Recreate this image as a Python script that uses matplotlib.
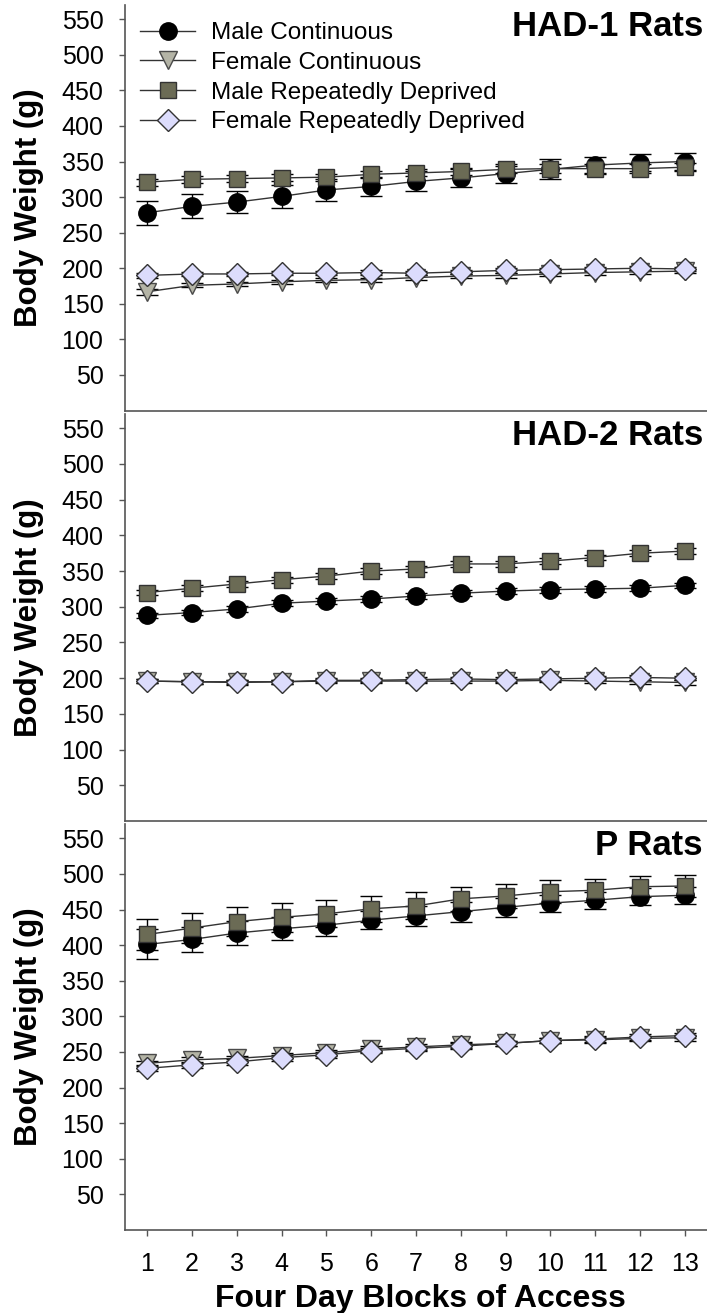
import numpy as np
import matplotlib.pyplot as plt

plt.rcParams['font.family'] = ['Liberation Sans', 'DejaVu Sans']

# x axis: four day blocks
blocks = np.arange(1, 14)
ytick_vals = np.arange(50, 551, 50)

series_names = ['Male Continuous', 'Female Continuous',
                'Male Repeatedly Deprived', 'Female Repeatedly Deprived']
panel_titles = ['HAD-1 Rats', 'HAD-2 Rats', 'P Rats']

# HAD-1
had1_mc = [278, 287, 293, 301, 310, 315, 322, 327, 333, 339, 345, 348, 350]
had1_mc_err = [17, 17, 16, 16, 15, 13, 14, 13, 13, 14, 12, 12, 12]
had1_fc = [167, 176, 178, 181, 183, 184, 187, 189, 190, 192, 194, 195, 196]
had1_fc_err = [4, 3, 3, 3, 3, 3, 3, 3, 3, 3, 3, 3, 3]
had1_mrd = [321, 325, 326, 327, 328, 332, 334, 336, 339, 340, 340, 340, 342]
had1_mrd_err = [5, 5, 5, 5, 5, 5, 5, 5, 5, 6, 6, 6, 6]
had1_frd = [190, 192, 192, 193, 193, 194, 193, 195, 197, 198, 199, 200, 199]
had1_frd_err = [3, 3, 3, 3, 3, 3, 3, 3, 3, 3, 3, 3, 3]

# HAD-2
had2_mc = [288, 292, 297, 305, 308, 311, 315, 319, 322, 324, 325, 326, 330]
had2_mc_err = [4, 4, 4, 4, 4, 4, 4, 4, 4, 4, 4, 4, 4]
had2_fc = [196, 195, 195, 195, 196, 196, 196, 196, 196, 197, 196, 195, 194]
had2_fc_err = [3, 3, 3, 3, 3, 3, 3, 3, 3, 3, 3, 3, 3]
had2_mrd = [320, 326, 332, 338, 343, 350, 353, 360, 360, 364, 369, 375, 378]
had2_mrd_err = [4, 4, 4, 4, 4, 4, 4, 4, 4, 4, 4, 4, 4]
had2_frd = [196, 195, 194, 195, 197, 197, 198, 199, 198, 199, 200, 201, 200]
had2_frd_err = [3, 3, 3, 3, 3, 3, 3, 3, 3, 3, 3, 3, 3]

# P
p_mc = [401, 408, 417, 423, 428, 435, 441, 447, 453, 459, 463, 468, 470]
p_mc_err = [21, 18, 17, 16, 15, 13, 14, 14, 13, 12, 12, 12, 12]
p_fc = [234, 239, 241, 245, 249, 254, 257, 260, 262, 266, 267, 269, 270]
p_fc_err = [4, 4, 4, 4, 4, 4, 4, 4, 4, 4, 4, 4, 4]
p_mrd = [415, 424, 433, 439, 444, 451, 455, 465, 469, 475, 477, 482, 483]
p_mrd_err = [22, 21, 20, 20, 19, 18, 19, 17, 17, 16, 16, 15, 16]
p_frd = [227, 232, 236, 242, 246, 252, 255, 258, 262, 266, 268, 271, 273]
p_frd_err = [4, 4, 4, 4, 4, 4, 4, 4, 4, 4, 4, 4, 4]

panels = [
    [(had1_mc, had1_mc_err), (had1_fc, had1_fc_err), (had1_mrd, had1_mrd_err), (had1_frd, had1_frd_err)],
    [(had2_mc, had2_mc_err), (had2_fc, had2_fc_err), (had2_mrd, had2_mrd_err), (had2_frd, had2_frd_err)],
    [(p_mc, p_mc_err), (p_fc, p_fc_err), (p_mrd, p_mrd_err), (p_frd, p_frd_err)],
]

# marker styles per series
styles = [
    dict(marker='o', ms=12.5, mfc='black', mec='black'),
    dict(marker='v', ms=12.5, mfc='#b4b4a6', mec='#4a4a4a'),
    dict(marker='s', ms=11, mfc='#6b6b55', mec='#333333'),
    dict(marker='D', ms=11, mfc='#dcdcfc', mec='#333333'),
]

fig = plt.figure(figsize=(7.07, 13.13), dpi=100)
axes_rects = [
    [0.1768, 0.6873, 0.8232, 0.3089],
    [0.1768, 0.3747, 0.8232, 0.3100],
    [0.1768, 0.0632, 0.8232, 0.3092],
]

for i, rect in enumerate(axes_rects):
    ax = fig.add_axes(rect)
    handles = []
    for (vals, errs), st, name in zip(panels[i], styles, series_names):
        ax.errorbar(blocks, vals, yerr=errs, fmt='none', ecolor='black',
                    elinewidth=1, capsize=8, capthick=1, zorder=2)
        h, = ax.plot(blocks, vals, color='#333333', lw=1, mew=1, zorder=3,
                     label=name, **st)
        handles.append(h)

    ax.set_xlim(0.5, 13.5)
    ax.set_ylim(0, 570)
    ax.set_yticks(ytick_vals)
    ax.tick_params(axis='y', direction='out', length=4, width=1, pad=11.5,
                   labelsize=18, color='#555555')
    ax.spines['top'].set_visible(False)
    ax.spines['right'].set_visible(False)
    for s in ['left', 'bottom']:
        ax.spines[s].set_color('#555555')
        ax.spines[s].set_linewidth(1.2)

    ax.set_ylabel('Body Weight (g)', fontsize=22.5, fontweight='bold', va='center')
    ax.yaxis.set_label_coords(-0.165, 0.5)

    ax.text(0.993, 0.948, panel_titles[i], transform=ax.transAxes,
            ha='right', va='center', fontsize=25, fontweight='bold')

    if i < 2:
        ax.tick_params(axis='x', bottom=False, labelbottom=False)
    else:
        ax.set_xticks(blocks)
        ax.tick_params(axis='x', direction='out', length=4, width=1, pad=12,
                       labelsize=18, color='#555555')
        ax.set_xlabel('Four Day Blocks of Access', fontsize=23,
                      fontweight='bold', va='center')
        ax.xaxis.set_label_coords(0.507, -0.17)

    if i == 0:
        ax.legend(handles=handles, loc='upper left', bbox_to_anchor=(0.0, 0.993),
                  frameon=False, fontsize=17.5, handlelength=2.3,
                  handletextpad=0.65, labelspacing=0.31, borderpad=0.4,
                  borderaxespad=0.2)

fig.savefig('out.png', dpi=100)
